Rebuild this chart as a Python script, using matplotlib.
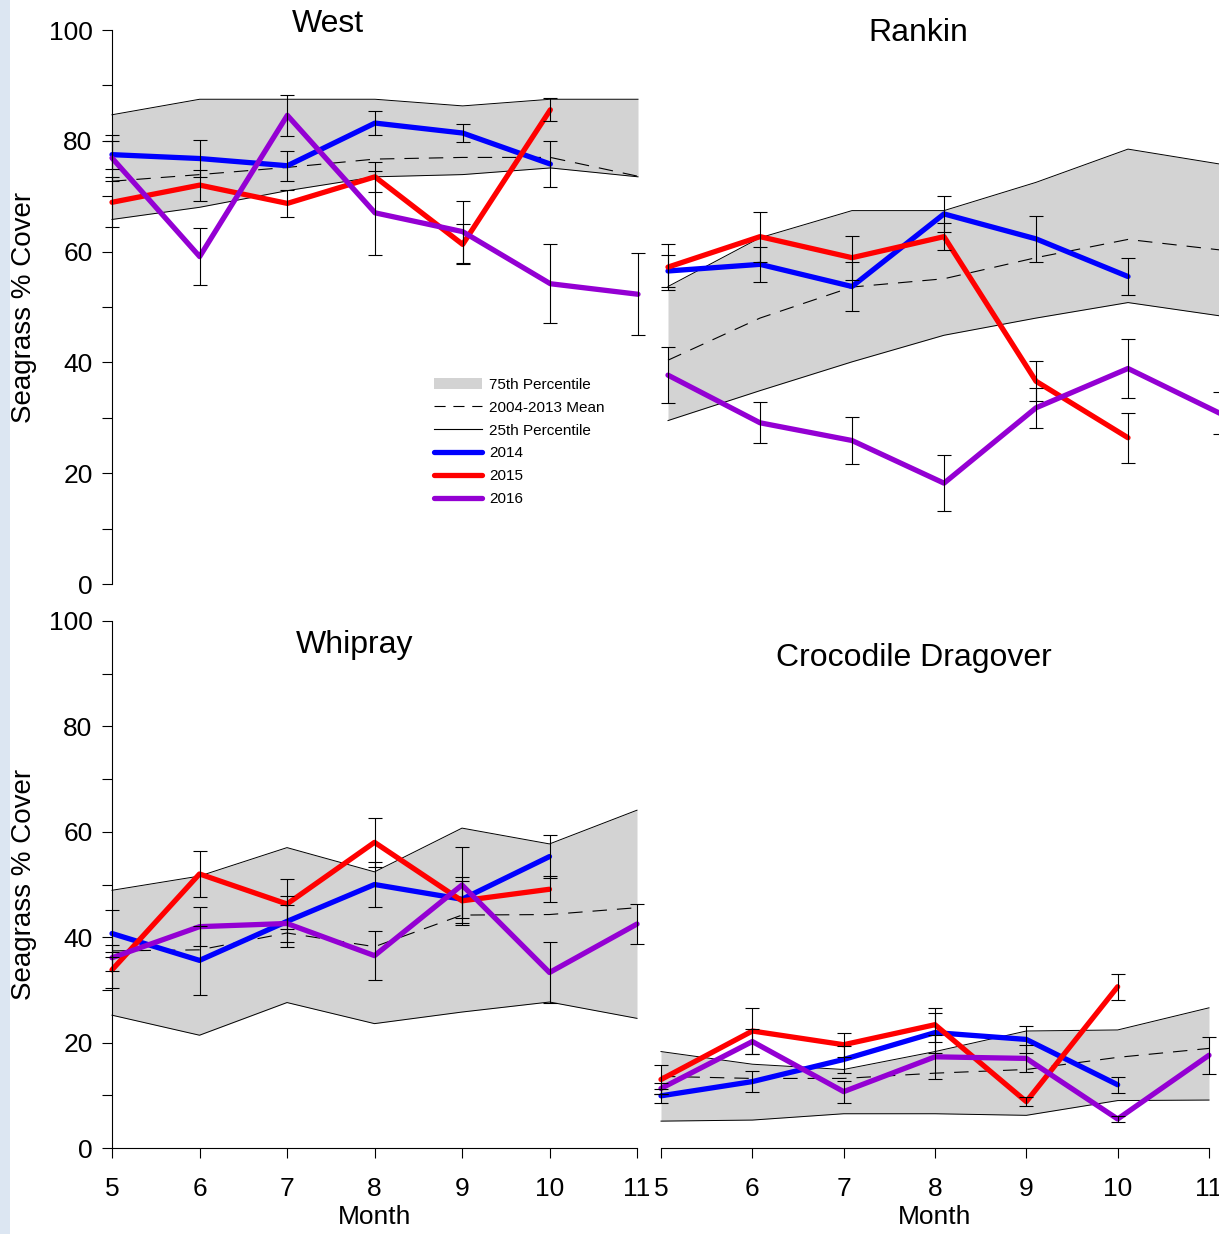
import numpy as np
import matplotlib.pyplot as plt
from matplotlib.lines import Line2D
from matplotlib.patches import Patch, Rectangle

plt.rcParams['font.family'] = ['Liberation Sans', 'DejaVu Sans']

# Data (month 5..11), seagrass % cover
months = [5, 6, 7, 8, 9, 10, 11]

west_p75 = [84.7, 87.5, 87.5, 87.5, 86.3, 87.5, 87.5]
west_p25 = [65.8, 68.0, 71.0, 73.5, 73.9, 75.1, 73.5]
west_mean = [72.7, 73.9, 75.2, 76.7, 77.0, 77.0, 73.6]
west_2014 = [77.5, 76.8, 75.5, 83.2, 81.4, 75.8]
west_2014_se = [2.5, 3.3, 2.7, 2.1, 1.7, 4.1]
west_2015 = [68.9, 72.0, 68.7, 73.5, 61.3, 85.6]
west_2015_se = [4.5, 2.8, 2.4, 2.7, 3.6, 2.1]
west_2016 = [76.9, 59.1, 84.6, 67.0, 63.6, 54.2, 52.3]
west_2016_se = [4.2, 5.1, 3.7, 7.6, 5.6, 7.1, 7.4]

rankin_p75 = [53.7, 62.5, 67.4, 67.4, 72.5, 78.5, 75.8]
rankin_p25 = [29.5, 34.9, 40.1, 44.9, 48.0, 50.8, 48.4]
rankin_mean = [40.4, 48.0, 53.6, 55.1, 58.9, 62.2, 60.3]
rankin_2014 = [56.5, 57.7, 53.7, 66.8, 62.3, 55.5]
rankin_2014_se = [2.9, 3.2, 4.4, 3.3, 4.1, 3.3]
rankin_2015 = [57.2, 62.7, 58.9, 62.7, 36.6, 26.4]
rankin_2015_se = [4.2, 4.5, 4.0, 2.4, 3.6, 4.5]
rankin_2016 = [37.7, 29.1, 25.9, 18.2, 31.8, 38.9, 30.8]
rankin_2016_se = [5.0, 3.7, 4.2, 5.1, 3.6, 5.3, 3.8]

whip_p75 = [48.9, 51.6, 57.0, 52.4, 60.7, 57.7, 64.1]
whip_p25 = [25.2, 21.4, 27.6, 23.6, 25.8, 27.7, 24.6]
whip_mean = [37.4, 37.6, 40.8, 38.2, 44.2, 44.3, 45.6]
whip_2014 = [40.7, 35.6, 43.0, 50.0, 47.2, 55.3]
whip_2014_se = [4.4, 6.6, 4.8, 4.2, 3.5, 4.0]
whip_2015 = [33.8, 52.0, 46.3, 58.0, 46.9, 49.1]
whip_2015_se = [3.4, 4.4, 4.8, 4.6, 4.5, 2.5]
whip_2016 = [36.1, 42.0, 42.6, 36.5, 49.9, 33.3, 42.5]
whip_2016_se = [2.5, 3.7, 3.5, 4.7, 7.3, 5.8, 3.8]

croc_p75 = [18.3, 15.9, 14.9, 18.3, 22.2, 22.4, 26.6]
croc_p25 = [5.1, 5.3, 6.5, 6.5, 6.2, 9.0, 9.1]
croc_mean = [13.6, 13.2, 13.2, 14.2, 14.9, 17.2, 18.9]
croc_2014 = [9.9, 12.6, 16.8, 21.9, 20.6, 12.0]
croc_2014_se = [1.3, 2.0, 2.6, 3.8, 2.5, 1.5]
croc_2015 = [13.0, 22.2, 19.6, 23.4, 8.8, 30.6]
croc_2015_se = [2.7, 4.3, 2.3, 3.2, 0.8, 2.5]
croc_2016 = [11.3, 20.2, 10.7, 17.3, 17.0, 5.5, 17.6]
croc_2016_se = [1.0, 2.3, 2.1, 4.2, 2.5, 0.6, 3.5]

band_color = '#d3d3d3'
year_colors = ['#0000ff', '#ff0000', '#9400d3']
mean_dash = (0, (13, 9))

W, H = 1219, 1234
fig = plt.figure(figsize=(W / 100, H / 100), dpi=100)

# light blue strip at left edge
fig.patches.append(Rectangle((0, 0), 10 / W, 1, transform=fig.transFigure,
                             facecolor='#dce6f2', edgecolor='none', zorder=0))


def px_axes(x0, x1, ytop, ybot):
    return fig.add_axes([x0 / W, 1 - ybot / H, (x1 - x0) / W, (ybot - ytop) / H])


def draw_panel(ax, p75, p25, mean, series, errors):
    ax.fill_between(months, p25, p75, color=band_color, lw=0, zorder=1, clip_on=False)
    ax.plot(months, p75, color='black', lw=0.7, zorder=2, clip_on=False)
    ax.plot(months, p25, color='black', lw=0.7, zorder=2, clip_on=False)
    ax.plot(months, mean, color='black', lw=0.8, ls=mean_dash, zorder=2, clip_on=False)
    for vals, errs, col in zip(series, errors, year_colors):
        m = months[:len(vals)]
        ax.plot(m, vals, color=col, lw=3.8, solid_capstyle='round', zorder=3, clip_on=False)
        eb = ax.errorbar(m, vals, yerr=errs, fmt='none', ecolor='black', elinewidth=0.8,
                         capsize=5, capthick=0.8, zorder=4)
        for art in eb.lines[1] + eb.lines[2]:
            art.set_clip_on(False)
    ax.set_xlim(5, 11)
    ax.set_ylim(0, 100)
    ax.patch.set_visible(False)
    for s in ax.spines.values():
        s.set_visible(False)
        s.set_linewidth(0.8)
    ax.tick_params(direction='out', length=7, width=0.8, labelsize=19)


def style_y(ax):
    ax.spines['left'].set_visible(True)
    ax.set_yticks([0, 20, 40, 60, 80, 100])
    ax.set_yticks([10, 30, 50, 70, 90], minor=True)
    ax.tick_params(axis='y', which='both', direction='out', length=7, width=0.8, pad=7)


def style_x(ax):
    ax.spines['bottom'].set_visible(True)
    ax.set_xticks(months)
    ax.tick_params(axis='x', pad=14)
    ax.set_xlabel('Month', fontsize=19, labelpad=3)


ax_w = px_axes(112, 638, 30, 584)
ax_r = px_axes(668, 1220, 30, 584)
ax_wh = px_axes(112, 637, 621, 1148)
ax_c = px_axes(661, 1209, 621, 1148)

draw_panel(ax_w, west_p75, west_p25, west_mean,
           [west_2014, west_2015, west_2016], [west_2014_se, west_2015_se, west_2016_se])
draw_panel(ax_r, rankin_p75, rankin_p25, rankin_mean,
           [rankin_2014, rankin_2015, rankin_2016], [rankin_2014_se, rankin_2015_se, rankin_2016_se])
draw_panel(ax_wh, whip_p75, whip_p25, whip_mean,
           [whip_2014, whip_2015, whip_2016], [whip_2014_se, whip_2015_se, whip_2016_se])
draw_panel(ax_c, croc_p75, croc_p25, croc_mean,
           [croc_2014, croc_2015, croc_2016], [croc_2014_se, croc_2015_se, croc_2016_se])

style_y(ax_w)
style_y(ax_wh)
style_x(ax_wh)
style_x(ax_c)
ax_w.set_xticks([])
ax_r.set_xticks([])
ax_r.set_yticks([])
ax_c.set_yticks([])

# panel titles
fig.text(328 / W, 1 - 32 / H, 'West', fontsize=23, ha='center', va='baseline')
fig.text(918 / W, 1 - 41 / H, 'Rankin', fontsize=23, ha='center', va='baseline')
fig.text(355 / W, 1 - 653 / H, 'Whipray', fontsize=23, ha='center', va='baseline')
fig.text(914 / W, 1 - 666 / H, 'Crocodile Dragover', fontsize=23, ha='center', va='baseline')

# y labels
fig.text(24 / W, 1 - 307 / H, 'Seagrass % Cover', fontsize=20, rotation=90, ha='center', va='center')
fig.text(24 / W, 1 - 884 / H, 'Seagrass % Cover', fontsize=20, rotation=90, ha='center', va='center')

# legend in West panel
handles = [
    Patch(facecolor=band_color, edgecolor='none'),
    Line2D([], [], color='black', lw=0.8, ls=(0, (10, 7))),
    Line2D([], [], color='black', lw=0.8),
    Line2D([], [], color=year_colors[0], lw=3.8, solid_capstyle='round'),
    Line2D([], [], color=year_colors[1], lw=3.8, solid_capstyle='round'),
    Line2D([], [], color=year_colors[2], lw=3.8, solid_capstyle='round'),
]
labels = ['75th Percentile', '2004-2013 Mean', '25th Percentile', '2014', '2015', '2016']
ax_w.legend(handles, labels, loc='upper left', bbox_to_anchor=(0.613, 0.372), frameon=False,
            fontsize=11, handlelength=3.1, handletextpad=0.5, labelspacing=0.58, borderpad=0,
            borderaxespad=0)

plt.savefig('out.png', dpi=100)
